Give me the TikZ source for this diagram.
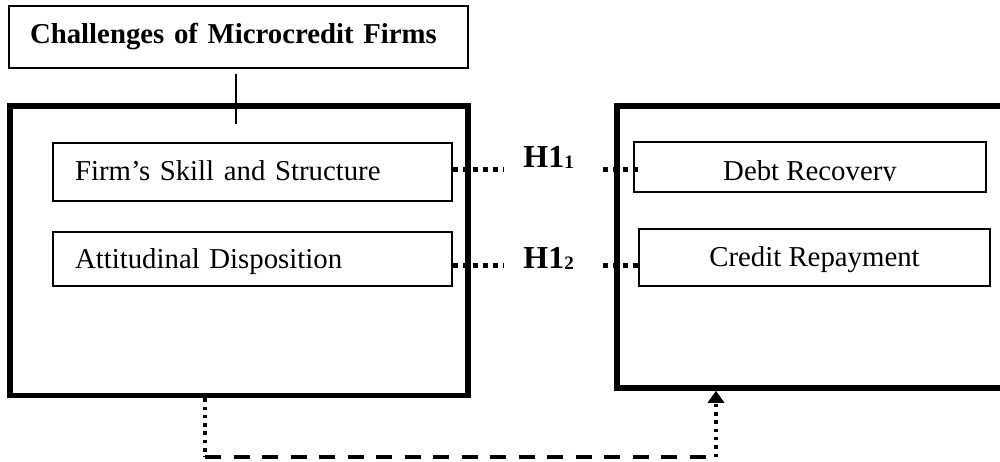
\documentclass[tikz,border=0pt]{standalone}
\usepackage{fontspec}
\setmainfont{Liberation Serif}
\usepackage{adjustbox}
\usetikzlibrary{arrows.meta}
\begin{document}
\begin{tikzpicture}[x=0.5pt,y=-0.5pt,
  font=\fontsize{14.4}{17}\selectfont,
  bigbox/.style={draw, line width=2.75pt, inner sep=0pt},
  smallbox/.style={draw, line width=0.85pt, inner sep=0pt},
  sqdot/.style={line width=2.5pt, dash pattern=on 2.5pt off 2.5pt},
  fdot/.style={line width=1.75pt, dash pattern=on 1.75pt off 2.4pt},
  fdash/.style={line width=2pt, dash pattern=on 8pt off 6.25pt},
  hyp/.style={font=\fontsize{16}{18}\selectfont\bfseries, inner sep=0pt}]
\useasboundingbox (0,0) rectangle (1000,461);
\clip (0,0) rectangle (1000,461);
% big frames
\node[bigbox, minimum width=229pt, minimum height=144.75pt] (L) at (239,250.75) {};
\node[bigbox, minimum width=194pt, minimum height=141pt] (R) at (811,247) {};
% title
\node[smallbox, line width=1pt, minimum width=229.5pt, minimum height=31pt,
      text width=208.5pt, inner xsep=10.5pt, inner ysep=0pt, align=left,
      text height=10pt, text depth=4pt,
      font=\fontsize{14.4}{17}\selectfont\bfseries] (T) at (238.5,37) {Challenges of Microcredit Firms};
\coordinate (v1) at (236,74);
\coordinate (v2) at (236,124);
\draw[line width=0.75pt] (v1) -- (v2);
% left inner boxes
\node[smallbox, minimum width=199.5pt, minimum height=29pt, text width=177.5pt,
      inner xsep=11pt, inner ysep=0pt, align=left, text height=10pt, text depth=2pt]
      (F) at (252.5,172) {Firm’s Skill and Structure};
\node[smallbox, minimum width=199.5pt, minimum height=27pt, text width=177.5pt,
      inner xsep=11pt, inner ysep=0pt, align=left, text height=10pt, text depth=1pt]
      (A) at (252.5,259) {Attitudinal Disposition};
% right inner boxes
\node[smallbox, minimum width=176pt, minimum height=25pt, text height=13pt, text depth=0pt]
      (DR) at (810,167) {\clipbox{0pt {\depth} 0pt 0pt}{Debt Recovery}};
\node[smallbox, minimum width=175.5pt, minimum height=28.5pt, text height=10pt, text depth=1.5pt]
      (CR) at (814.5,257.5) {Credit Repayment};
% hypotheses
\node[hyp, anchor=base west] (h1) at (523,167) {H1\raisebox{-0.75pt}{\fontsize{9.5}{10}\selectfont 1}};
\node[hyp, anchor=base west] (h2) at (523,268) {H1\raisebox{-0.75pt}{\fontsize{9.5}{10}\selectfont 2}};
\coordinate (a1) at (503,169.5);
\coordinate (b1) at (603,169.5);
\coordinate (a2) at (503,265.5);
\coordinate (b2) at (603,265.5);
\draw[sqdot] (F.east |- a1) -- (a1);
\draw[sqdot] (b1) -- (b1 -| DR.west) -- ++(5,0);
\draw[sqdot] (A.east |- a2) -- (a2);
\draw[sqdot] (b2) -- (b2 -| CR.west);
% bottom connector
\coordinate (p) at (205,457);
\coordinate (q) at (716,457);
\draw[fdot] (L.south -| p) -- (p);
\draw[fdash] (p) -- (q);
\draw[fdot, -{Triangle[width=8pt,length=6pt]}] (q) -- (q |- R.south);
\end{tikzpicture}
\end{document}
